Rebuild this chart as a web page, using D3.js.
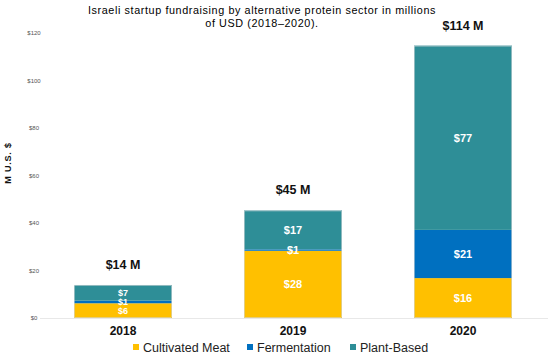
<!DOCTYPE html>
<html><head><meta charset="utf-8">
<script src="https://cdn.jsdelivr.net/npm/d3@7"></script>
<style>body{margin:0;background:#fff}svg{display:block;font-family:"Liberation Sans",Arial,sans-serif}</style>
</head><body><svg id="c" width="556" height="358"></svg>
<script>
const years = ["2018", "2019", "2020"];
const series = ["Cultivated Meat", "Fermentation", "Plant-Based"];
const cultivated = [6.2, 28.3, 16.8];
const fermentation = [1.1, 0.6, 20.3];
const plantBased = [6.6, 16.4, 77.6];
const segLabels = [["$6", "$28", "$16"], ["$1", "$1", "$21"], ["$7", "$17", "$77"]];
const totalLabels = ["$14 M", "$45 M", "$114 M"];
const yTicks = [0, 20, 40, 60, 80, 100, 120];
const colors = ["#FFC000", "#0070C0", "#2E8E97"];

const svg = d3.select("#c");
const x = d3.scaleBand().domain(years).range([38, 548]).paddingInner(0.4235).paddingOuter(0.21175);
const y = d3.scaleLinear().domain([0, 120]).range([318, 33]);

const rows = years.map((yr, i) => ({year: yr, "Cultivated Meat": cultivated[i], "Fermentation": fermentation[i], "Plant-Based": plantBased[i]}));
const stack = d3.stack().keys(series)(rows);

// title
svg.append("text").attr("x", 262).attr("y", 14).attr("text-anchor", "middle")
  .attr("font-size", 10.8).attr("letter-spacing", 0.6).attr("fill", "#000")
  .text("Israeli startup fundraising by alternative  protein sector in millions");
svg.append("text").attr("x", 262).attr("y", 27).attr("text-anchor", "middle")
  .attr("font-size", 10.8).attr("letter-spacing", 0.6).attr("fill", "#000")
  .text("of USD (2018–2020).");

// y axis
const yAxis = d3.axisLeft(y).tickValues(yTicks).tickFormat(d => "$" + d).tickSize(0).tickPadding(0);
const ya = svg.append("g").attr("transform", "translate(34,0)").call(yAxis);
ya.select(".domain").remove();
ya.selectAll("text").attr("font-size", 6).attr("fill", "#555").attr("text-anchor", "middle").attr("font-family", "Liberation Sans, Arial, sans-serif");

svg.append("text").attr("transform", "translate(11,163) rotate(-90)").attr("text-anchor", "middle")
  .attr("font-size", 9).attr("font-weight", "bold").attr("letter-spacing", 0.8).attr("fill", "#111").text("M U.S. $");

// baseline
svg.append("line").attr("x1", 40).attr("x2", 548).attr("y1", y(0) + 0.5).attr("y2", y(0) + 0.5).attr("stroke", "#e8e8e8");

// bars
stack.forEach((s, si) => {
  const g = svg.append("g").attr("fill", colors[si]);
  g.selectAll("rect").data(s).join("rect")
    .attr("x", d => x(d.data.year)).attr("width", x.bandwidth())
    .attr("y", d => y(d[1])).attr("height", d => y(d[0]) - y(d[1]));
});
// bar outlines
svg.append("g").selectAll("rect").data(stack[2]).join("rect")
  .attr("x", d => x(d.data.year) + 0.5).attr("width", x.bandwidth() - 1)
  .attr("y", d => y(d[1]) + 0.5).attr("height", d => y(0) - y(d[1]) - 1)
  .attr("fill", "none").attr("stroke", "#d0d6d8").attr("stroke-width", 0.6);

// segment labels
stack.forEach((s, si) => {
  svg.append("g").selectAll("text").data(s).join("text")
    .attr("x", d => x(d.data.year) + x.bandwidth() / 2)
    .attr("y", d => (y(d[0]) + y(d[1])) / 2).attr("dy", "0.36em")
    .attr("text-anchor", "middle").attr("font-size", d => (d.data.year === "2018" ? 9 : 11)).attr("font-weight", "bold").attr("fill", "#fff")
    .text((d, i) => segLabels[si][i]);
});

// totals
svg.append("g").selectAll("text").data(stack[2]).join("text")
  .attr("x", d => x(d.data.year) + x.bandwidth() / 2)
  .attr("y", d => y(d[1]) - 16)
  .attr("text-anchor", "middle").attr("font-size", 12.5).attr("font-weight", "bold").attr("fill", "#111")
  .text((d, i) => totalLabels[i]);

// x axis
const xAxis = d3.axisBottom(x).tickSize(0).tickPadding(0);
const xa = svg.append("g").attr("transform", "translate(0,326)").call(xAxis);
xa.select(".domain").remove();
xa.selectAll("text").attr("font-size", 12).attr("font-weight", "bold").attr("fill", "#111").attr("font-family", "Liberation Sans, Arial, sans-serif");

// legend
const legX = [133, 247, 350];
const lg = svg.append("g").selectAll("g").data(series).join("g")
  .attr("transform", (d, i) => `translate(${legX[i]},347)`);
lg.append("rect").attr("x", 0).attr("y", -3).attr("width", 6).attr("height", 6).attr("fill", (d, i) => colors[i]);
lg.append("text").attr("x", 10).attr("dy", "0.36em").attr("font-size", 12.5).attr("fill", "#222").text(d => d);
</script></body></html>
